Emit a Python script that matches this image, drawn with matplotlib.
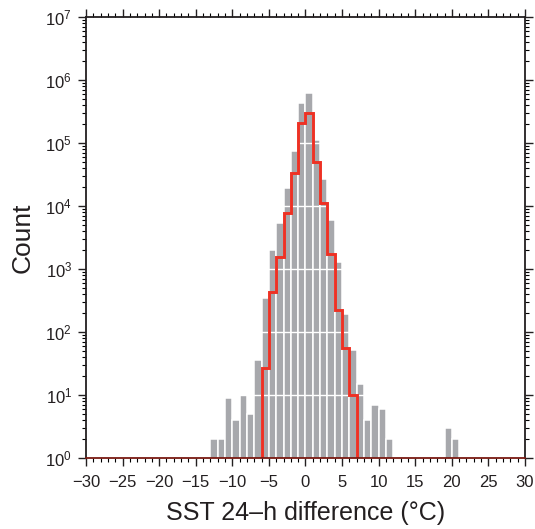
import numpy as np
import matplotlib
matplotlib.use("Agg")
import matplotlib.pyplot as plt
from matplotlib.ticker import FixedLocator, LogLocator, NullFormatter

plt.rcParams['font.family'] = ['Liberation Sans', 'DejaVu Sans']
plt.rcParams['mathtext.fontset'] = 'custom'
plt.rcParams['mathtext.rm'] = 'Liberation Sans'
plt.rcParams['mathtext.it'] = 'Liberation Sans'

# gray histogram: left bin edges and counts (1 degC bins)
gray_left = list(range(-13, 21))
gray_count = [2, 2, 9, 4, 10, 5, 36, 343, 2000, 5300, 19500, 75500, 436000, 614000,
              111600, 26900, 6000, 1300, 193, 52, 15, 4, 7, 6, 2,
              0, 0, 0, 0, 0, 0, 0, 3, 2]

# red histogram (step outline)
red_edges = list(range(-6, 8))
red_count = [27, 427, 1535, 7640, 33000, 209000, 296000, 50500, 11000, 1700, 224, 55, 10]

xticks = list(range(-30, 31, 5))
yticks = [1e0, 1e1, 1e2, 1e3, 1e4, 1e5, 1e6, 1e7]
ylabels = ['$10^{%d}$' % i for i in range(8)]

fig = plt.figure(figsize=(5.35, 5.29), dpi=100)
ax = fig.add_axes([0.1607, 0.1342, 0.8206, 0.8337])

gl = np.array(gray_left)
gc = np.array(gray_count, dtype=float)
m = gc > 0
ax.bar(gl[m], gc[m], width=1, align='edge', color='#a7a8ac',
       edgecolor='white', linewidth=1.1, zorder=1)

for y in yticks[1:-1]:
    ax.axhline(y, color='white', lw=1.0, zorder=2)

ax.stairs(red_count, red_edges, baseline=1, color='#ee3124', lw=2.1, zorder=3)

ax.set_yscale('log')
ax.set_xlim(-30, 30)
ax.set_ylim(1, 1e7)

ax.xaxis.set_major_locator(FixedLocator(xticks))
ax.xaxis.set_minor_locator(FixedLocator(list(range(-30, 31))))
ax.set_xticklabels([str(t).replace('-', '\u2212') for t in xticks])
ax.yaxis.set_major_locator(FixedLocator(yticks))
ax.yaxis.set_minor_locator(LogLocator(base=10, subs=np.arange(2, 10)))
ax.yaxis.set_minor_formatter(NullFormatter())
ax.set_yticklabels(ylabels)

ax.tick_params(axis='both', which='major', direction='out', length=6, width=1,
               labelsize=12, colors='#231f20', top=True, right=True)
ax.tick_params(axis='x', which='major', pad=6)
ax.tick_params(axis='y', which='major', pad=4)
ax.tick_params(axis='both', which='minor', direction='out', length=3, width=0.8,
               top=True, right=True)

for s in ax.spines.values():
    s.set_linewidth(1.3)
    s.set_color('#231f20')
ax.spines['bottom'].set_color('#7a1a12')
for s in ax.spines.values():
    s.set_zorder(5)

ax.set_xlabel('SST 24\u2013h difference (\u00b0C)', fontsize=18, color='#231f20', labelpad=8)
ax.set_ylabel('Count', fontsize=19, color='#231f20', labelpad=8)

fig.savefig('out.png', dpi=100)
